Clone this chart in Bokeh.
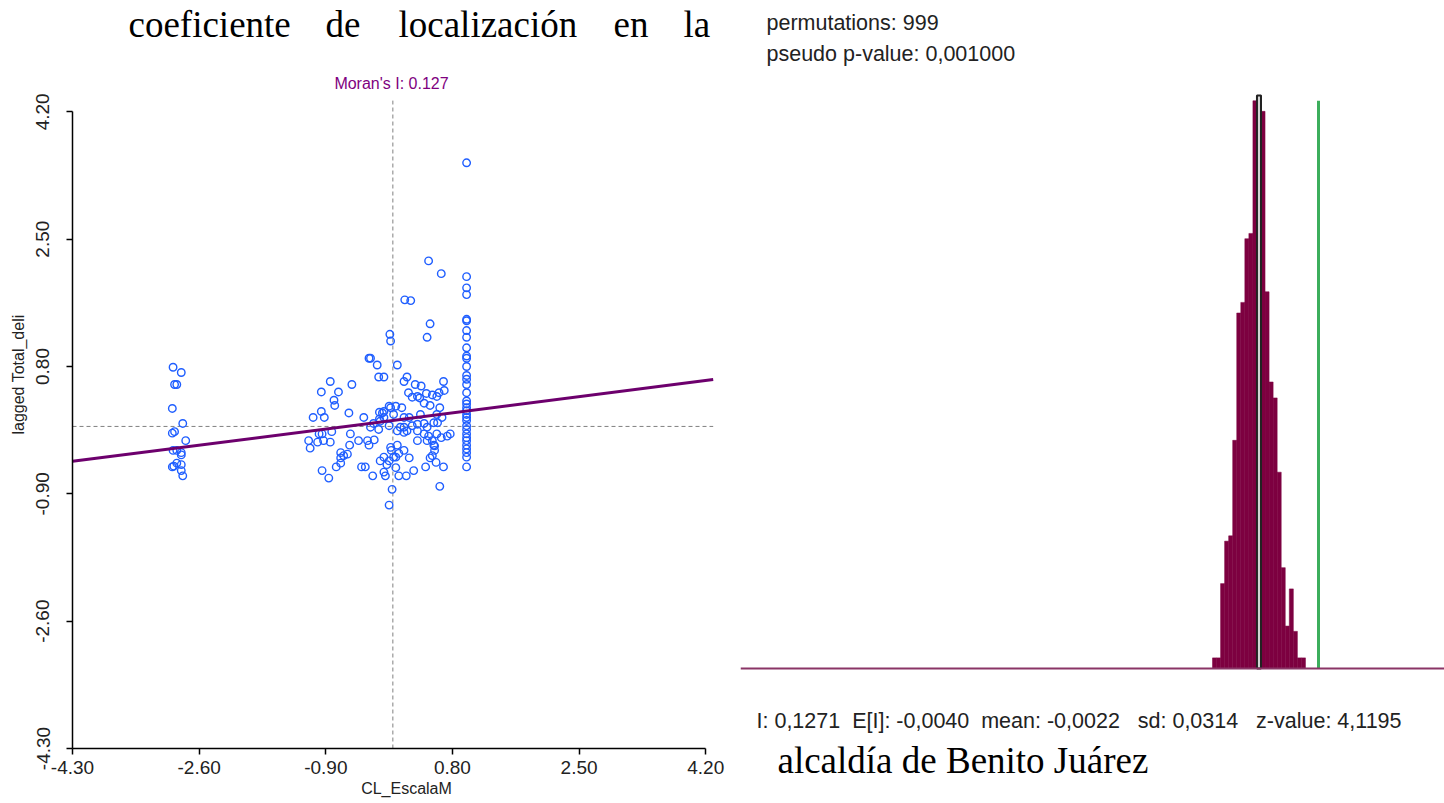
import numpy as np
from bokeh.plotting import figure
from bokeh.models import Span, Label, FixedTicker, PrintfTickFormatter, Range1d
from bokeh.layouts import row
from bokeh.embed import file_html
from bokeh.resources import INLINE

# ---------------- data: Moran scatter ----------------
cl_escala = [
    -2.95, -2.84, -2.93, -2.90, -2.96, -2.82, -2.93, -2.96, -2.78, -2.95, -2.90, -2.84, -2.84, -2.94, -2.90, -2.84, -2.84, -2.82, -2.96,
    0.99, 0.99, 0.99, 0.99, 0.99, 0.99, 0.99, 0.99, 0.99, 0.99, 0.99, 0.99, 0.99, 0.99, 0.99, 0.99, 0.99, 0.99,
    0.99, 0.99, 0.99, 0.99, 0.99, 0.99, 0.99, 0.99, 0.99, 0.99, 0.99, 0.99, 0.99, 0.99, 0.99,
    -0.27, 0.63, 0.48, 0.65, 0.24, 0.16, 0.50, 0.46, -0.04, -0.03, -0.32, -0.30, -0.21, 0.06, 0.19, -0.19, -0.12, 0.15,
    0.30, 0.38, 0.68, -0.84, -0.55, -0.96, -0.73, -0.79, -0.78, -0.96, -1.07, -0.59, -0.92, -0.39, -0.26, -0.18, -0.14,
    -0.05, 0.04, 0.21, 0.36, 0.45, 0.53, 0.59, 0.62, 0.69, 0.26, 0.33, 0.42, 0.50, 0.63, 0.12, -0.03, -0.12, -0.18, 0.01,
    0.15, 0.22, 0.33, 0.42, 0.55, 0.60, 0.66, -0.12, -0.05, -0.30, -0.19, 0.06, 0.19, 0.33, 0.42, 0.48, 0.59, 0.73, 0.77,
    0.65, 0.55, 0.46, 0.53, 0.56, 0.56, 0.50, 0.58, 0.68, 0.28, 0.22, 0.15, 0.08, 0.01, -0.05, -0.12, -0.17, -0.02, 0.04,
    0.04, -0.12, 0.18, 0.08, -0.10, -0.08, -0.25, -0.32, -0.34, -0.46, -0.57, -0.58, -0.84, -0.82, -0.95, -1.13, -1.01,
    -0.99, -0.93, -1.11, -0.70, -0.66, -0.61, -0.70, -0.70, -0.76, -0.95, -0.86, -0.42, -0.37, 0.44, 0.53, -0.05, -0.01,
    -0.17, 0.15, 0.26, 0.37, 0.46, 0.59, 0.10, 0.15, 0.33, -0.03, 0.06,
]
lagged_total_deli = [
    0.79, 0.72, 0.56, 0.56, 0.24, 0.04, -0.07, -0.09, -0.19, -0.32, -0.32, -0.35, -0.38, -0.53, -0.49, -0.51, -0.59, -0.66, -0.54,
    3.52, 2.00, 1.85, 1.76, 1.43, 1.41, 1.28, 1.19, 1.05, 0.94, 0.91, 0.80, 0.68, 0.63, 0.56, 0.45, 0.34, 0.30,
    0.25, 0.21, 0.16, 0.12, 0.08, 0.01, -0.04, -0.10, -0.15, -0.19, -0.25, -0.30, -0.35, -0.41, -0.54, -0.66, -0.80,
    2.21, 2.04, 1.68, 1.69, 1.37, 1.19, 1.23, 1.14, 0.91, 0.91, 0.82, 0.82, 0.66, 0.66, 0.66, 0.60, 0.56, 0.54,
    0.60, 0.60, 0.56, 0.46, 0.46, 0.35, 0.28, 0.20, 0.12, 0.18, 0.12, 0.12, 0.04, 0.10, 0.18, 0.27, 0.27,
    0.45, 0.38, 0.44, 0.42, 0.40, 0.45, 0.48, 0.39, 0.40, 0.31, 0.28, 0.25, 0.25, 0.25, 0.20, 0.19, 0.16, 0.12, 0.12,
    0.03, 0.04, 0.05, 0.05, 0.12, 0.12, 0.01, -0.01, -0.04, -0.06, -0.06, -0.06, -0.10, -0.13, -0.10, -0.13, -0.10, -0.15, -0.25,
    -0.19, -0.19, -0.26, -0.32, -0.42, -0.48, -0.54, -0.59, -0.42, -0.32, -0.36, -0.41, -0.46, -0.41, -0.46, -0.32, -0.41, -0.55, -0.61,
    -0.66, -0.66, -0.66, -0.51, -0.18, -0.25, -0.19, -0.19, -0.10, -0.25, -0.21, -0.07, -0.10, -0.19, -0.21, -0.10, -0.19,
    -0.29, -0.35, -0.39, -0.37, -0.42, -0.49, -0.54, -0.59, -0.69, -0.54, -0.54, -0.54, -0.39, -1.05, -0.84, 0.07, -0.08,
    0.01, 0.16, -0.01, 0.16, -0.01, -0.01, -0.19, -0.28, -0.25, -0.37, -0.32,
]
axis_ticks = [-4.30, -2.60, -0.90, 0.80, 2.50, 4.20]
morans_i = 0.127
reg_intercept = 0.08

# ---------------- data: permutation histogram ----------------
perm_counts = [2, 2, 16, 24, 25, 43, 67, 69, 81, 82, 107, 108, 105, 71, 54, 51, 37, 19, 8, 15, 7, 2, 2]
perm_min, perm_max = -0.0976, 0.0995
I_obs = 0.1271
E_I = -0.0040
perm_mean = -0.0022
perm_sd = 0.0314
z_value = 4.1195
permutations = 999
p_value = 0.001

SANS = "Liberation Sans"
NARROW = "Liberation Sans Narrow, Liberation Sans"
SERIF = "Liberation Serif"
NB = "\u00a0"
H = 803
LW, RW = 740, 704

# ---------------- left figure ----------------
# plot-area extents (the region GeoDa draws its guide lines in)
AREA_X0, AREA_X1 = -4.3, 4.3
AREA_Y0, AREA_Y1 = -4.3, 4.35
PXX, PXY = 74.5, 74.9          # pixels per unit
FL, FB = 72, 55                # left / bottom borders
X0 = AREA_X0
X1 = X0 + (LW - FL) / PXX
Y0 = AREA_Y0
Y1 = Y0 + (H - FB) / PXY


def lx(page_x):
    return X0 + (page_x - FL) / PXX


def ly(page_y):
    return Y1 - page_y / PXY


p = figure(width=LW, height=H, x_range=Range1d(X0, X1), y_range=Range1d(Y0, Y1),
           output_backend="svg", toolbar_location=None,
           min_border_left=FL, min_border_right=0, min_border_top=0, min_border_bottom=FB)
p.frame_align = False
p.outline_line_color = None
p.grid.visible = False
p.background_fill_color = "white"
p.border_fill_color = "white"

for ax in (p.xaxis[0], p.yaxis[0]):
    ax.ticker = FixedTicker(ticks=axis_ticks)
    ax.formatter = PrintfTickFormatter(format="%.2f")
    ax.bounds = (axis_ticks[0], axis_ticks[-1])
    ax.axis_line_color = "black"
    ax.axis_line_width = 1.5
    ax.major_tick_line_color = "black"
    ax.major_tick_line_width = 1.5
    ax.major_tick_out = 6
    ax.major_tick_in = 0
    ax.minor_tick_line_color = None
    ax.major_label_text_font = NARROW
    ax.major_label_text_font_size = "19px"
    ax.major_label_text_color = "#222222"
    ax.axis_label_text_font = SANS
    ax.axis_label_text_font_size = "16px"
    ax.axis_label_text_font_style = "normal"
    ax.axis_label_text_color = "#222222"

p.xaxis.major_label_standoff = 6
p.xaxis.axis_label = "CL_EscalaM"
p.xaxis.axis_label_standoff = 3
p.yaxis.major_label_standoff = 17
p.yaxis.major_label_orientation = "vertical"
p.yaxis.axis_label = "lagged Total_deli"
p.yaxis.axis_label_standoff = 7

# guide lines through the origin
p.segment(x0=[0], y0=[AREA_Y0], x1=[0], y1=[AREA_Y1], line_color="#808080", line_width=1, line_dash="4 3")
p.segment(x0=[AREA_X0], y0=[0], x1=[AREA_X1], y1=[0], line_color="#808080", line_width=1, line_dash="4 3")

p.scatter(cl_escala, lagged_total_deli, marker="circle", size=7.5, fill_alpha=0,
          line_color="#1f5eff", line_width=1.4)

# regression line (slope = Moran's I)
p.segment(x0=[AREA_X0], y0=[reg_intercept + morans_i * AREA_X0],
          x1=[AREA_X1], y1=[reg_intercept + morans_i * AREA_X1], line_color="#6d006d", line_width=3)

p.add_layout(Label(x=lx(391), y=ly(83), text="Moran's I: %.3f" % morans_i, text_align="center",
                   text_baseline="alphabetic", text_font=SANS, text_font_size="16px", text_color="#800080"))

for word, wx in [("coeficiente", 128), ("de", 325), ("localización", 398), ("en", 613), ("la", 683)]:
    p.add_layout(Label(x=lx(wx), y=ly(24), text=word, text_align="left", text_baseline="alphabetic",
                       text_font=SERIF, text_font_size="37px", text_color="black"))

# ---------------- right figure ----------------
PX_PER_I = 471.8
PX_PER_COUNT = 5.306
BASE = 668
RX0 = I_obs - (1318 - 740) / PX_PER_I
RX1 = RX0 + RW / PX_PER_I
RY1 = BASE / PX_PER_COUNT
RY0 = -(H - BASE) / PX_PER_COUNT


def rx(page_x):
    return RX0 + (page_x - 740) / PX_PER_I


def ry(page_y):
    return (BASE - page_y) / PX_PER_COUNT


q = figure(width=RW, height=H, x_range=Range1d(RX0, RX1), y_range=Range1d(RY0, RY1),
           output_backend="svg", toolbar_location=None, x_axis_location=None, y_axis_location=None,
           min_border_left=0, min_border_right=0, min_border_top=0, min_border_bottom=0)
q.frame_align = False
q.outline_line_color = None
q.grid.visible = False
q.background_fill_color = "white"
q.border_fill_color = "white"

edges = np.linspace(perm_min, perm_max, len(perm_counts) + 1)
q.quad(left=edges[:-1], right=edges[1:], bottom=0, top=perm_counts,
       fill_color="#7d0040", line_color="#7d0040", line_width=0.5)
mi = int(np.searchsorted(edges, perm_mean) - 1)
q.quad(left=[edges[mi]], right=[edges[mi + 1]], bottom=[0], top=[perm_counts[mi]],
       fill_color="#d4d4d4", line_color="#222222", line_width=2)
q.add_layout(Span(location=0, dimension="width", line_color="#8a3566", line_width=2))
q.segment(x0=[I_obs], y0=[0], x1=[I_obs], y1=[max(perm_counts) - 1], line_color="#3cae5c", line_width=3)

q.add_layout(Label(x=rx(766), y=ry(22), text="permutations: %d" % permutations, text_baseline="alphabetic",
                   text_font=SANS, text_font_size="21.5px", text_color="#222222"))
q.add_layout(Label(x=rx(766), y=ry(53), text="pseudo p-value: " + ("%.6f" % p_value).replace(".", ","),
                   text_baseline="alphabetic", text_font=SANS, text_font_size="21.5px", text_color="#222222"))


def cfmt(v):
    return ("%.4f" % v).replace(".", ",")


stats = ("I: " + cfmt(I_obs) + NB * 2 + "E[I]: " + cfmt(E_I) + NB * 2 + "mean: " + cfmt(perm_mean)
         + NB * 3 + "sd: " + cfmt(perm_sd) + NB * 3 + "z-value: " + cfmt(z_value))
q.add_layout(Label(x=rx(756), y=ry(720), text=stats, text_baseline="alphabetic",
                   text_font=SANS, text_font_size="21.5px", text_color="#222222"))
q.add_layout(Label(x=rx(777), y=ry(760), text="alcaldía de Benito Juárez", text_baseline="alphabetic",
                   text_font=SERIF, text_font_size="37px", text_color="black"))

layout = row(p, q)
open("out.html", "w").write(file_html(layout, INLINE))
